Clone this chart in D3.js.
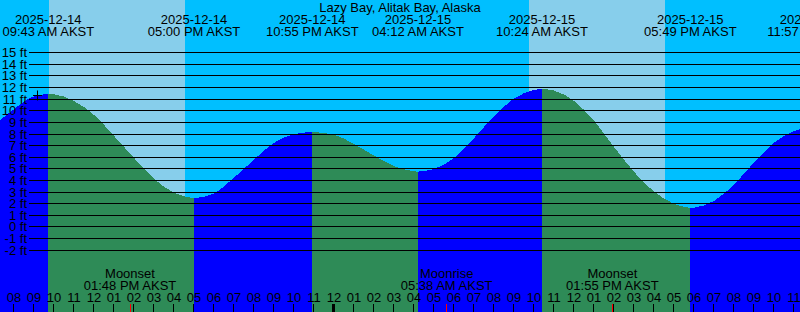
<!DOCTYPE html>
<html>
<head>
<meta charset="utf-8">
<script src="https://cdn.jsdelivr.net/npm/d3@7"></script>
<style>
  body { margin: 0; overflow: hidden; background: #fff; }
  text { font-family: "Liberation Sans", Arial, sans-serif; font-size: 13px; fill: #000; }
</style>
</head>
<body>
<svg id="chart"></svg>
<script>
// Station + tide data
const stationName = "Lazy Bay, Alitak Bay, Alaska";
const zoneName = "AKST";

// High / low events
const tideTimes = ["2025-12-14 09:43", "2025-12-14 17:00", "2025-12-14 22:55", "2025-12-15 04:12",
                   "2025-12-15 10:24", "2025-12-15 17:49", "2025-12-15 23:57"];
const tideLevels = [11.4, 2.43, 8.13, 4.72, 11.83, 1.6, 8.6];

// Hourly levels between the events (ft)
const readingTimes = [
    "2025-12-14 07:00", "2025-12-14 08:00", "2025-12-14 09:00", "2025-12-14 10:00", "2025-12-14 11:00",
    "2025-12-14 12:00", "2025-12-14 13:00", "2025-12-14 14:00", "2025-12-14 15:00", "2025-12-14 16:00",
    "2025-12-14 18:00", "2025-12-14 19:00", "2025-12-14 20:00", "2025-12-14 21:00", "2025-12-14 22:00",
    "2025-12-14 23:00", "2025-12-15 00:00", "2025-12-15 01:00", "2025-12-15 02:00", "2025-12-15 03:00",
    "2025-12-15 04:00", "2025-12-15 05:00", "2025-12-15 06:00", "2025-12-15 07:00", "2025-12-15 08:00",
    "2025-12-15 09:00", "2025-12-15 10:00", "2025-12-15 11:00", "2025-12-15 12:00", "2025-12-15 13:00",
    "2025-12-15 14:00", "2025-12-15 15:00", "2025-12-15 16:00", "2025-12-15 17:00", "2025-12-15 18:00",
    "2025-12-15 19:00", "2025-12-15 20:00", "2025-12-15 21:00", "2025-12-15 22:00", "2025-12-15 23:00",
    "2025-12-16 00:00"
];
const readingLevels = [
    8.7, 10.1, 11.2, 11.38, 10.8,
    9.6, 7.8, 5.9, 4.1, 2.9,
    2.85, 4.2, 5.75, 7.2, 7.95,
    8.12, 7.9, 7.1, 6.1, 5.2,
    4.75, 4.95, 5.9, 7.6, 9.5,
    11.0, 11.75, 11.7, 10.8, 9.1,
    6.85, 4.7, 3.0, 1.95, 1.62,
    2.2, 3.6, 5.5, 7.2, 8.2,
    8.59
];

// Daylight (sunrise / sunset)
const sunriseTimes = ["2025-12-14 09:44", "2025-12-15 09:46"];
const sunsetTimes = ["2025-12-14 16:32", "2025-12-15 16:32"];

// Moon events
const moonTimes = ["2025-12-14 13:48", "2025-12-15 05:38", "2025-12-15 13:55"];
const moonNames = ["Moonset", "Moonrise", "Moonset"];

// Level axis ticks (ft)
const levelTicks = [-2, -1, 0, 1, 2, 3, 4, 5, 6, 7, 8, 9, 10, 11, 12, 13, 14, 15];

// Current-time mark
const nowTime = "2025-12-14 09:08";
const nowLevel = 11.3;

const width = 800, height = 312;
const colours = { night: "#00BFFF", day: "#87CEEB", rise: "#0000FF", fall: "#2E8B57", mark: "#FF0000" };

const parse = d3.timeParse("%Y-%m-%d %H:%M");

const svg = d3.select("#chart").attr("width", width).attr("height", height);

// Scales
const x = d3.scaleTime()
    .domain([parse("2025-12-14 07:18"), parse("2025-12-15 23:18")])
    .range([0, width]);

const y = d3.scaleLinear()
    .domain([-2, 15])
    .range([249.7, 52.2]);

// Sky background
svg.append("rect")
    .attr("width", width).attr("height", height)
    .attr("fill", colours.night);

svg.selectAll(".day")
    .data(sunriseTimes.map((t, i) => ({ start: parse(t), end: parse(sunsetTimes[i]) })))
    .enter()
    .append("rect")
    .attr("class", "day")
    .attr("x", d => Math.round(x(d.start)))
    .attr("width", d => Math.round(x(d.end)) - Math.round(x(d.start)))
    .attr("y", 0)
    .attr("height", height)
    .attr("fill", colours.day);

// Tide curve, split at each high / low
const extremes = tideTimes.map((t, i) => ({ time: parse(t), level: tideLevels[i], extreme: true }));
const points = readingTimes.map((t, i) => ({ time: parse(t), level: readingLevels[i], extreme: false }))
    .concat(extremes)
    .sort((a, b) => a.time - b.time);

const segments = [];
let current = [];
points.forEach(p => {
    current.push(p);
    if (p.extreme) {
        segments.push(current);
        current = [p];
    }
});
if (current.length > 1) segments.push(current);

const area = d3.area()
    .x(d => x(d.time))
    .y0(height)
    .y1(d => y(d.level))
    .curve(d3.curveMonotoneX);

svg.selectAll(".tide")
    .data(segments)
    .enter()
    .append("path")
    .attr("class", "tide")
    .attr("d", area)
    .attr("shape-rendering", "crispEdges")
    .attr("fill", d => d[d.length - 1].level > d[0].level ? colours.rise : colours.fall);

// Level gridlines
svg.selectAll(".levelLine")
    .data(levelTicks)
    .enter()
    .append("line")
    .attr("class", "levelLine")
    .attr("x1", 29)
    .attr("x2", width)
    .attr("y1", d => Math.round(y(d)) + 0.5)
    .attr("y2", d => Math.round(y(d)) + 0.5)
    .attr("stroke", "#000")
    .attr("stroke-width", 1);

svg.selectAll(".levelLabel")
    .data(levelTicks)
    .enter()
    .append("text")
    .attr("class", "levelLabel")
    .attr("x", 27)
    .attr("y", d => Math.round(y(d)) + 0.5)
    .attr("dy", "0.36em")
    .attr("text-anchor", "end")
    .text(d => `${d} ft`);

// Current-time cross
const nx = Math.round(x(parse(nowTime))) + 0.5;
const ny = Math.round(y(nowLevel)) + 0.5;
svg.append("path")
    .attr("d", `M${nx - 4.5},${ny}H${nx + 4.5}M${nx},${ny - 5}V${ny + 5}`)
    .attr("stroke", "#000")
    .attr("stroke-width", 1);

// Title
svg.append("text")
    .attr("x", width / 2)
    .attr("y", 12)
    .attr("text-anchor", "middle")
    .text(stationName);

// High / low labels
const dateFmt = d3.timeFormat("%Y-%m-%d");
const timeFmt = d3.timeFormat("%I:%M %p");

const tideLabel = svg.selectAll(".tideLabel")
    .data(extremes)
    .enter()
    .append("text")
    .attr("class", "tideLabel")
    .attr("text-anchor", "middle");
tideLabel.append("tspan")
    .attr("x", d => x(d.time))
    .attr("y", 24)
    .text(d => dateFmt(d.time));
tideLabel.append("tspan")
    .attr("x", d => x(d.time))
    .attr("y", 36)
    .text(d => `${timeFmt(d.time)} ${zoneName}`);

// Moon labels
const moon = moonTimes.map((t, i) => ({ time: parse(t), name: moonNames[i] }));
const moonLabel = svg.selectAll(".moonLabel")
    .data(moon)
    .enter()
    .append("text")
    .attr("class", "moonLabel")
    .attr("text-anchor", "middle");
moonLabel.append("tspan")
    .attr("x", d => x(d.time))
    .attr("y", 278)
    .text(d => d.name);
moonLabel.append("tspan")
    .attr("x", d => x(d.time))
    .attr("y", 290)
    .text(d => `${timeFmt(d.time)} ${zoneName}`);

// Hour axis
const hours = d3.timeHour.range(x.domain()[0], x.domain()[1]);
const hourFmt = d3.timeFormat("%I");

svg.selectAll(".hourLabel")
    .data(hours)
    .enter()
    .append("text")
    .attr("class", "hourLabel")
    .attr("x", d => x(d))
    .attr("y", 302)
    .attr("text-anchor", "middle")
    .text(d => hourFmt(d));

svg.selectAll(".hourTick")
    .data(hours)
    .enter()
    .append("line")
    .attr("class", "hourTick")
    .attr("x1", d => Math.round(x(d)) - 0.5)
    .attr("x2", d => Math.round(x(d)) - 0.5)
    .attr("y1", 304)
    .attr("y2", height)
    .attr("stroke", "#000")
    .attr("stroke-width", d => d.getHours() === 0 ? 3 : 1);

svg.selectAll(".moonTick")
    .data(moon)
    .enter()
    .append("line")
    .attr("class", "moonTick")
    .attr("x1", d => Math.floor(x(d.time)) + 0.5)
    .attr("x2", d => Math.floor(x(d.time)) + 0.5)
    .attr("y1", 304)
    .attr("y2", height)
    .attr("stroke", colours.mark)
    .attr("stroke-width", 1);
</script>
</body>
</html>
